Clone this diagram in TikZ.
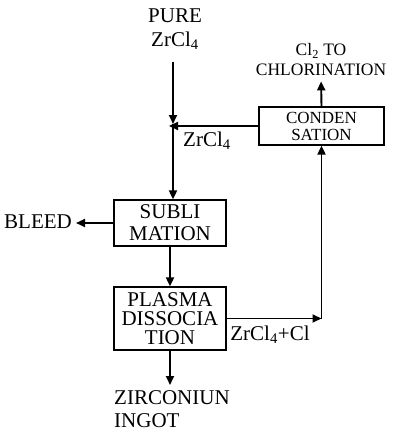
\documentclass[tikz,border=0pt]{standalone}
\usepackage{fontspec}
\setmainfont{Liberation Serif}
\usetikzlibrary{arrows.meta}

\begin{document}
\begin{tikzpicture}[x=1pt,y=-1pt,>={Triangle[length=9pt,width=8pt]},
  flow/.style={->,line width=1.9pt},
  procbox/.style={draw,line width=1.3pt,inner sep=0pt,align=center,minimum width=112pt},
  lbl/.style={inner sep=0pt,align=center},
  font=\fontsize{21}{22}\selectfont]
  \useasboundingbox (0,0) rectangle (401,431);
  \node[lbl,font=\fontsize{21}{24}\selectfont] (pure) at (175,29) {PURE\\ZrCl\textsubscript{4}};
  \node[lbl,font=\fontsize{17.5}{20}\selectfont] (chlor) at (321,60) {Cl\textsubscript{2} TO\\CHLORINATION};
  \node[procbox,minimum width=125pt,minimum height=38pt,font=\fontsize{17}{17}\selectfont]
    (cond) at (321.5,126) {CONDEN\\SATION};
  \node[procbox,minimum height=46pt] (subl) at (170,223) {SUBLI\\MATION};
  \node[procbox,minimum height=63pt,font=\fontsize{21}{19}\selectfont]
    (plasma) at (170,318.5) {PLASMA\\DISSOCIA\\TION};
  \node[lbl] (bleed) at (38,222) {BLEED};
  \node[lbl,align=left,anchor=north west,font=\fontsize{21}{23}\selectfont] (ingot) at (114,390) {ZIRCONIUN\\INGOT};
  \node[lbl] (zrcla) at (207,141) {ZrCl\textsubscript{4}};
  \node[lbl] (zrclb) at (270,335) {ZrCl\textsubscript{4}+Cl};
  \coordinate (junction) at (173,124);
  \coordinate (corner) at (cond.south |- plasma.east);
  \draw[flow,shorten <=12pt] (pure.south -| junction) -- (junction);
  \draw[flow] (junction) -- (junction |- subl.north);
  \draw[flow,shorten >=-4pt] (cond.west) -- (cond.west -| junction);
  \draw[flow,shorten >=5pt] (cond.north) -- (chlor.south);
  \draw[flow,shorten >=4pt] (subl.west) -- (subl.west -| bleed.east);
  \draw[flow] (subl.south) -- (plasma.north);
  \draw[flow,shorten >=5pt] (plasma.south) -- (plasma.south |- ingot.north);
  \draw[flow] (plasma.east) -- (corner);
  \draw[flow] (corner) -- (cond.south);
\end{tikzpicture}
\end{document}
